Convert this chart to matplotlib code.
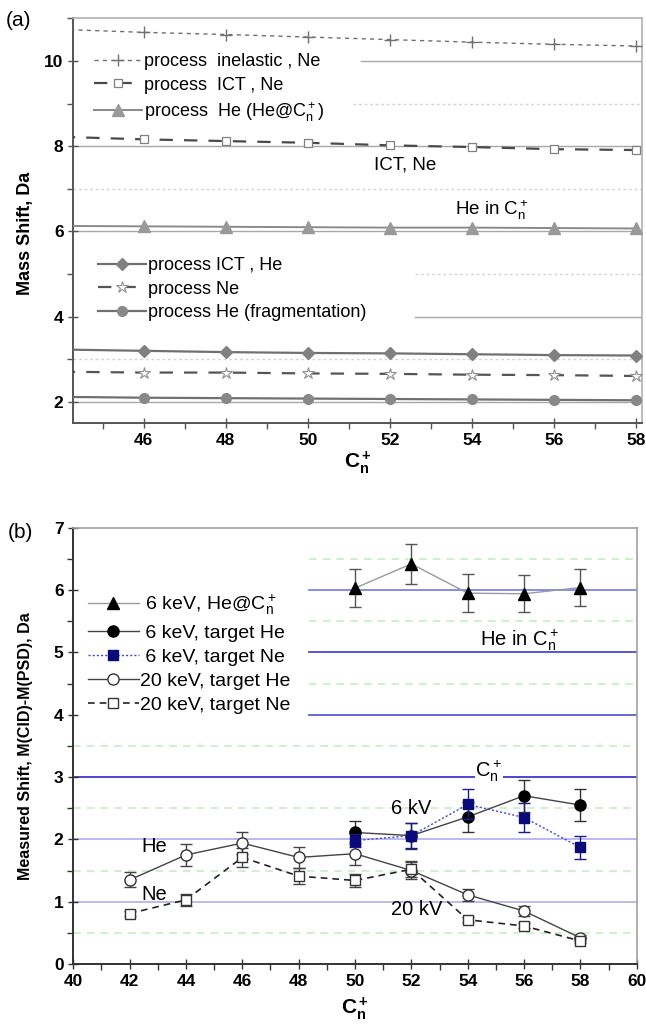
import matplotlib
matplotlib.use("Agg")
import matplotlib.pyplot as plt
from matplotlib.ticker import MultipleLocator

plt.rcParams["font.family"] = ["Liberation Sans", "DejaVu Sans"]
plt.rcParams["mathtext.fontset"] = "custom"
plt.rcParams["mathtext.rm"] = "Liberation Sans"
plt.rcParams["mathtext.it"] = "Liberation Sans"
plt.rcParams["mathtext.bf"] = "Liberation Sans:bold"

# ---- panel (a): calculated mass shifts ----
n_calc = [44, 46, 48, 50, 52, 54, 56, 58]
inelastic_ne = [10.74, 10.67, 10.62, 10.56, 10.50, 10.44, 10.39, 10.35]
ict_ne = [8.22, 8.16, 8.12, 8.08, 8.02, 7.98, 7.93, 7.91]
he_inside = [6.13, 6.12, 6.11, 6.10, 6.09, 6.09, 6.08, 6.07]
ict_he = [3.23, 3.20, 3.17, 3.15, 3.14, 3.12, 3.10, 3.09]
ne_proc = [2.71, 2.69, 2.69, 2.67, 2.66, 2.64, 2.63, 2.61]
he_frag = [2.12, 2.10, 2.09, 2.08, 2.07, 2.06, 2.05, 2.04]

# ---- panel (b): measured shifts ----
n_6kev = [50, 52, 54, 56, 58]
he_at_6kev = [6.03, 6.42, 5.95, 5.94, 6.04]
he_at_6kev_err = [0.30, 0.32, 0.30, 0.30, 0.30]
he_6kev = [2.11, 2.06, 2.36, 2.70, 2.55]
he_6kev_err = [0.19, 0.21, 0.24, 0.26, 0.25]
ne_6kev = [1.98, 2.06, 2.56, 2.35, 1.87]
ne_6kev_err = [0.10, 0.20, 0.24, 0.24, 0.18]

n_20kev = [42, 44, 46, 48, 50, 52, 54, 56, 58]
he_20kev = [1.35, 1.75, 1.94, 1.71, 1.77, 1.50, 1.11, 0.85, 0.42]
he_20kev_err = [0.12, 0.17, 0.18, 0.17, 0.18, 0.13, 0.10, 0.08, 0.05]
ne_20kev = [0.81, 1.03, 1.71, 1.41, 1.34, 1.52, 0.71, 0.61, 0.37]
ne_20kev_err = [0.04, 0.10, 0.15, 0.13, 0.11, 0.13, 0.04, 0.04, 0.04]

fig = plt.figure(figsize=(6.46, 10.24), dpi=100)
W, H = 646.0, 1024.0


def fx(px):
    return px / W


def fy(py):
    return 1.0 - py / H


tick_font = dict(fontsize=12.5, fontweight="bold")

# ================= panel (a) =================
ax1 = fig.add_axes([fx(73.3), fy(423.3), fx(641.7) - fx(73.3), fy(18.3) - fy(423.3)])
ax1.set_xlim(44.28, 58.14)
ax1.set_ylim(1.5, 11.0)

# guide lines
for yv, x0 in [(2, 44.28), (6, 44.28), (8, 44.28), (10, 51.3), (4, 52.6)]:
    ax1.plot([x0, 58.14], [yv, yv], color="#a8a8a8", lw=1.0, zorder=1)
for yv, x0 in [(3, 44.28), (7, 44.28), (9, 51.1), (5, 52.6)]:
    ax1.plot([x0, 58.14], [yv, yv], color="#d4d4d4", lw=1.0, ls=(0, (2, 2)), zorder=1)

l_inel, = ax1.plot(n_calc, inelastic_ne, color="#707070", lw=1.0, ls=(0, (3, 3)),
                   marker="+", ms=8, mew=1.0, mec="#707070", zorder=3)
l_ictne, = ax1.plot(n_calc, ict_ne, color="#4a4a4a", lw=1.6, ls=(0, (6, 5)),
                    marker="s", ms=6, mfc="white", mec="#808080", mew=0.9, zorder=3)
l_hein, = ax1.plot(n_calc, he_inside, color="#8a8a8a", lw=1.4, ls="-",
                   marker="^", ms=8, mfc="#999999", mec="#999999", zorder=3)
l_icthe, = ax1.plot(n_calc, ict_he, color="#707070", lw=1.6, ls="-",
                    marker="D", ms=6.5, mfc="#808080", mec="#808080", zorder=3)
l_ne, = ax1.plot(n_calc, ne_proc, color="#555555", lw=1.6, ls=(0, (6, 5)),
                 marker="*", ms=9, mfc="white", mec="#909090", mew=0.8, zorder=3)
l_frag, = ax1.plot(n_calc, he_frag, color="#707070", lw=1.6, ls="-",
                   marker="o", ms=7, mfc="#888888", mec="#888888", zorder=3)

leg_kw = dict(frameon=True, facecolor="white", edgecolor="none", framealpha=1.0,
              fancybox=False, borderpad=0.0, borderaxespad=0.0, handletextpad=0.1,
              handlelength=2.65, fontsize=13, labelspacing=0.36,
              bbox_transform=fig.transFigure, loc="upper left")
leg1 = ax1.legend([l_inel, l_ictne, l_hein],
                  ["process  inelastic , Ne", "process  ICT , Ne",
                   "process  He (He@C$_n^+$)"],
                  bbox_to_anchor=(fx(94), fy(53)), **leg_kw)
leg1.set_zorder(5)
ax1.add_artist(leg1)
leg2 = ax1.legend([l_icthe, l_ne, l_frag],
                  ["process ICT , He", "process Ne", "process He (fragmentation)"],
                  bbox_to_anchor=(fx(98), fy(257)), **leg_kw)
leg2.set_zorder(5)

ax1.text(52.36, 7.56, "ICT, Ne", fontsize=13.5, ha="center", va="center", zorder=4)
ax1.text(54.48, 6.5, "He in C$_n^+$", fontsize=13.5, ha="center", va="center", zorder=4)

ax1.xaxis.set_minor_locator(MultipleLocator(1))
ax1.yaxis.set_minor_locator(MultipleLocator(1))
ax1.tick_params(which="major", direction="inout", length=7, width=1.0, color="#555555")
ax1.tick_params(which="minor", direction="out", length=4, width=1.0, color="#555555")
ax1.set_xticks([46, 48, 50, 52, 54, 56, 58])
ax1.set_xticklabels(["46", "48", "50", "52", "54", "56", "58"], **tick_font)
ax1.set_yticks([2, 4, 6, 8, 10])
ax1.set_yticklabels(["2", "4", "6", "8", "10"], **tick_font)
for s in ["left", "bottom"]:
    ax1.spines[s].set_color("#555555")
    ax1.spines[s].set_linewidth(1.4)
for s in ["top", "right"]:
    ax1.spines[s].set_color("#b0b0b0")
    ax1.spines[s].set_linewidth(1.2)

ax1.set_xlabel(r"$\mathbf{C_n^+}$", fontsize=15, labelpad=1)
ax1.set_ylabel("Mass Shift, Da", fontsize=13, fontweight="bold")
ax1.yaxis.set_label_coords(-0.07, 0.47)
fig.text(fx(6), fy(20), "(a)", fontsize=15, ha="left", va="center")

# ================= panel (b) =================
ax2 = fig.add_axes([fx(73.3), fy(964), fx(636.7) - fx(73.3), fy(527.7) - fy(964)])
ax2.set_xlim(40, 60)
ax2.set_ylim(0, 7)

for yv, c in [(1, "#b4b4f0"), (2, "#b4b4f0"), (3, "#3a3ad0")]:
    ax2.plot([40, 60], [yv, yv], color=c, lw=1.3, zorder=1)
for yv, c in [(4, "#5a5ae0"), (5, "#4848d8"), (6, "#8080ec")]:
    ax2.plot([48.37, 60], [yv, yv], color=c, lw=1.3, zorder=1)
for yv in [0.5, 1.5, 2.5, 3.5]:
    ax2.plot([40, 60], [yv, yv], color="#bfeebf", lw=1.1, ls=(0, (5, 4)), zorder=1)
for yv in [4.5, 5.5, 6.5]:
    ax2.plot([48.37, 60], [yv, yv], color="#bfeebf", lw=1.1, ls=(0, (5, 4)), zorder=1)

eb_tri = ax2.errorbar(n_6kev, he_at_6kev, yerr=he_at_6kev_err, color="#9a9a9a", lw=1.0,
                      marker="^", ms=9, mfc="black", mec="black", ecolor="#555555",
                      elinewidth=1.0, capsize=4, capthick=1.0, zorder=4)
eb_heh = ax2.errorbar(n_6kev, he_6kev, yerr=he_6kev_err, color="#444444", lw=1.0,
                      marker="o", ms=8, mfc="black", mec="black", ecolor="#333333",
                      elinewidth=1.0, capsize=4, capthick=1.0, zorder=4)
eb_ne6 = ax2.errorbar(n_6kev, ne_6kev, yerr=ne_6kev_err, color="#4646c8", lw=1.0,
                      ls=(0, (1.5, 1.5)), marker="s", ms=7, mfc="#0a0a78", mec="#0a0a78",
                      ecolor="#1a1a90", elinewidth=1.0, capsize=4, capthick=1.0, zorder=5)
eb_he20 = ax2.errorbar(n_20kev, he_20kev, yerr=he_20kev_err, color="#444444", lw=1.0,
                       marker="o", ms=8, mfc="white", mec="#333333", mew=1.0,
                       ecolor="#444444", elinewidth=1.0, capsize=4, capthick=1.0, zorder=4)
eb_ne20 = ax2.errorbar(n_20kev, ne_20kev, yerr=ne_20kev_err, color="#222222", lw=1.2,
                       ls=(0, (4, 3)), marker="s", ms=7, mfc="white", mec="#333333",
                       mew=1.0, ecolor="#444444", elinewidth=1.0, capsize=4,
                       capthick=1.0, zorder=4)

leg3_kw = dict(leg_kw)
leg3_kw.update(fontsize=14, handlelength=2.6, labelspacing=0.34)
leg3 = ax2.legend([eb_tri.lines[0], eb_heh.lines[0], eb_ne6.lines[0],
                   eb_he20.lines[0], eb_ne20.lines[0]],
                  [" 6 keV, He@C$_n^+$", " 6 keV, target He", " 6 keV, target Ne",
                   "20 keV, target He", "20 keV, target Ne"],
                  bbox_to_anchor=(fx(88), fy(593)), **leg3_kw)
leg3.set_zorder(6)

txt_bg = dict(facecolor="white", edgecolor="none", pad=0.5)
ax2.text(55.83, 5.19, "He in C$_n^+$", fontsize=14.5, ha="center", va="center", zorder=3)
ax2.text(54.75, 3.09, "C$_n^+$", fontsize=14.5, ha="center", va="center", zorder=3,
         bbox=txt_bg)
ax2.text(52.01, 2.49, "6 kV", fontsize=14.5, ha="center", va="center", zorder=3)
ax2.text(52.19, 0.88, "20 kV", fontsize=14.5, ha="center", va="center", zorder=3)
ax2.text(42.88, 1.88, "He", fontsize=14.5, ha="center", va="center", zorder=3)
ax2.text(42.88, 1.11, "Ne", fontsize=14.5, ha="center", va="center", zorder=3)

ax2.xaxis.set_minor_locator(MultipleLocator(1))
ax2.yaxis.set_minor_locator(MultipleLocator(0.5))
ax2.tick_params(which="major", direction="inout", length=7, width=1.0, color="#333333")
ax2.tick_params(which="minor", direction="out", length=4, width=1.0, color="#333333")
ax2.set_xticks(list(range(40, 61, 2)))
ax2.set_xticklabels([str(v) for v in range(40, 61, 2)], **tick_font)
ax2.set_yticks(list(range(0, 8)))
ax2.set_yticklabels([str(v) for v in range(0, 8)], **tick_font)
for s in ["left", "bottom"]:
    ax2.spines[s].set_color("#333333")
    ax2.spines[s].set_linewidth(1.4)
for s in ["top", "right"]:
    ax2.spines[s].set_color("#a0a0a0")
    ax2.spines[s].set_linewidth(1.2)

ax2.set_xlabel(r"$\mathbf{C_n^+}$", fontsize=15, labelpad=5)
ax2.set_ylabel("Measured Shift, M(CID)-M(PSD), Da", fontsize=11.5, fontweight="bold")
ax2.yaxis.set_label_coords(-0.072, 0.5)
fig.text(fx(8), fy(532), "(b)", fontsize=15, ha="left", va="center")

fig.savefig("out.png", dpi=100)
